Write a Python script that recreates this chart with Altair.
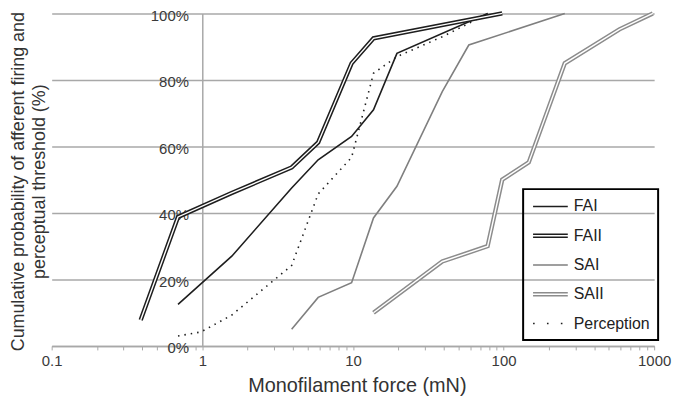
import altair as alt
import pandas as pd

# ---- data ----
series_names = ["FAI", "FAII", "SAI", "SAII", "Perception"]
series_colors = ["#1e1e1e", "#1e1e1e", "#7f7f7f", "#8c8c8c", "#1e1e1e"]

fai_x = [0.69, 1.57, 3.92, 5.88, 9.8, 13.7, 19.6, 78.4]
fai_y = [12.5, 27, 47.5, 56, 63, 71, 88, 100]

faii_x = [0.39, 0.69, 1.57, 3.92, 5.88, 9.8, 13.7, 98]
faii_y = [7.8, 38.8, 46, 53.7, 61.2, 85, 92.5, 100]

sai_x = [3.92, 5.88, 9.8, 13.7, 19.6, 39.2, 58.8, 255]
sai_y = [5, 14.6, 19, 38.5, 48, 76.5, 90.5, 100]

saii_x = [13.7, 39.2, 78.4, 98, 147, 255, 588, 980]
saii_y = [10, 25.4, 30, 50, 55.2, 85, 95.2, 100]

perc_x = [0.69, 0.98, 1.57, 3.92, 5.88, 9.8, 13.7, 19.6, 39.2, 58.8, 78.4]
perc_y = [3, 4.2, 9.3, 24.2, 45.7, 56.7, 82, 87, 93, 97, 100]

x_labels = [0.1, 1, 10, 100, 1000]
y_ticks = [0, 20, 40, 60, 80, 100]

rows = []
for name, xs, ys in [("FAI", fai_x, fai_y), ("FAII", faii_x, faii_y),
                     ("SAI", sai_x, sai_y), ("SAII", saii_x, saii_y),
                     ("Perception", perc_x, perc_y)]:
    for xv, yv in zip(xs, ys):
        rows.append({"series": name, "force": xv, "pct": yv})
df = pd.DataFrame(rows)

W, H = 607, 335
FONT = "Liberation Sans"
GRID = "#a8a8a8"

minor_ticks = sorted(set(round(m * 10.0 ** e, 6) for e in range(-1, 3) for m in range(1, 10))) + [1000]

x_enc = alt.X(
    "force:Q",
    scale=alt.Scale(type="log", domain=[0.1, 1000], nice=False),
    axis=alt.Axis(
        values=minor_ticks,
        labelExpr="indexof(" + str(x_labels) + ", datum.value) >= 0 ? toString(datum.value) : ''",
        title="Monofilament force (mN)",
        grid=False,
        domainColor=GRID, domainWidth=1.5,
        tickColor=GRID, tickSize=4, tickWidth=1,
        labelFont=FONT, labelFontSize=15, labelColor="#3a3a3a", labelPadding=4,
        labelFlush=False, labelOverlap=False,
        titleFont=FONT, titleFontSize=20, titleFontWeight="normal", titleColor="#333333",
        titlePadding=7, titleX=W / 2 + 4,
    ),
)

y_enc = alt.Y(
    "pct:Q",
    scale=alt.Scale(domain=[0, 100], nice=False),
    axis=alt.Axis(
        values=y_ticks,
        labelExpr="datum.value + '%'",
        offset=-W / 4,
        ticks=False,
        labelPadding=14, labelOffset=2,
        labelFont=FONT, labelFontSize=15, labelColor="#3a3a3a",
        grid=True, gridColor=GRID, gridWidth=1.5,
        domainColor=GRID, domainWidth=1.5,
        title=["Cumulative probability of afferent firing and", "perceptual threshold (%)"],
        titleFont=FONT, titleFontSize=18, titleFontWeight="normal", titleColor="#333333",
        titleAngle=270, titleBaseline="top", titleAlign="center",
        titleX=-W / 4 - 42, titleY=H / 2 + 1.5, titleLineHeight=21,
    ),
)

double_names = ["FAII", "SAII"]


def series_color(legend=None, rng=None):
    return alt.Color(
        "series:N",
        scale=alt.Scale(domain=series_names, range=rng or series_colors),
        legend=legend,
    )


def legend_props(symbol, label_color, stroke, dash=None):
    kw = dict(
        title=None, orient="none", legendX=475, legendY=177,
        symbolType=symbol, symbolSize=306, symbolStrokeWidth=1.5,
        symbolOffset=10,
        labelFont=FONT, labelFontSize=16, labelColor=label_color,
        labelOffset=14, rowPadding=11.5, padding=8,
        strokeColor=stroke,
    )
    if dash is not None:
        kw["symbolDash"] = dash
    return alt.Legend(**kw)


base = alt.Chart(df).encode(x=x_enc, y=y_enc)

# data lines
thin = base.transform_filter(
    alt.FieldOneOfPredicate(field="series", oneOf=["FAI", "SAI"])
).mark_line(strokeWidth=1.6).encode(color=series_color(), detail="series:N")

dotted = base.transform_filter(
    alt.FieldEqualPredicate(field="series", equal="Perception")
).mark_line(strokeWidth=1.6, strokeDash=[1.5, 5], color="#1e1e1e")

thick = base.transform_filter(
    alt.FieldOneOfPredicate(field="series", oneOf=double_names)
).mark_line(strokeWidth=4.4).encode(color=series_color(), detail="series:N")

inner = base.transform_filter(
    alt.FieldOneOfPredicate(field="series", oneOf=double_names)
).mark_line(strokeWidth=1.4, color="white").encode(detail="series:N")

# legend-only layers (no rows drawn), stacked at the same place
T = "transparent"
leg_single = base.transform_filter("false").mark_line(strokeWidth=1.5).encode(
    color=series_color(
        legend_props("M-2,0H2", "#222222", "black"),
        ["#1e1e1e", T, "#7f7f7f", T, T]))
leg_double = base.transform_filter("false").mark_line(strokeWidth=1.3).encode(
    color=series_color(
        legend_props("M-2,-0.17H2M-2,0.17H2", T, T),
        [T, "#1e1e1e", T, "#8c8c8c", T]))
leg_dot = base.transform_filter("false").mark_line(strokeWidth=1.6).encode(
    color=series_color(
        legend_props("M-2,0H2", T, T, dash=[1.6, 12.4]),
        [T, T, T, T, "#1e1e1e"]))

chart = alt.layer(thin, dotted, thick, inner, leg_single, leg_double, leg_dot).resolve_scale(
    color="independent"
).properties(
    width=W, height=H,
    autosize=alt.AutoSizeParams(type="none"),
    padding={"left": 44, "top": 4, "right": 20, "bottom": 55},
    background="white",
).configure_view(stroke=None).configure_legend(strokeWidth=2)

chart.save("out.html", embed_options={"renderer": "svg", "actions": False})
